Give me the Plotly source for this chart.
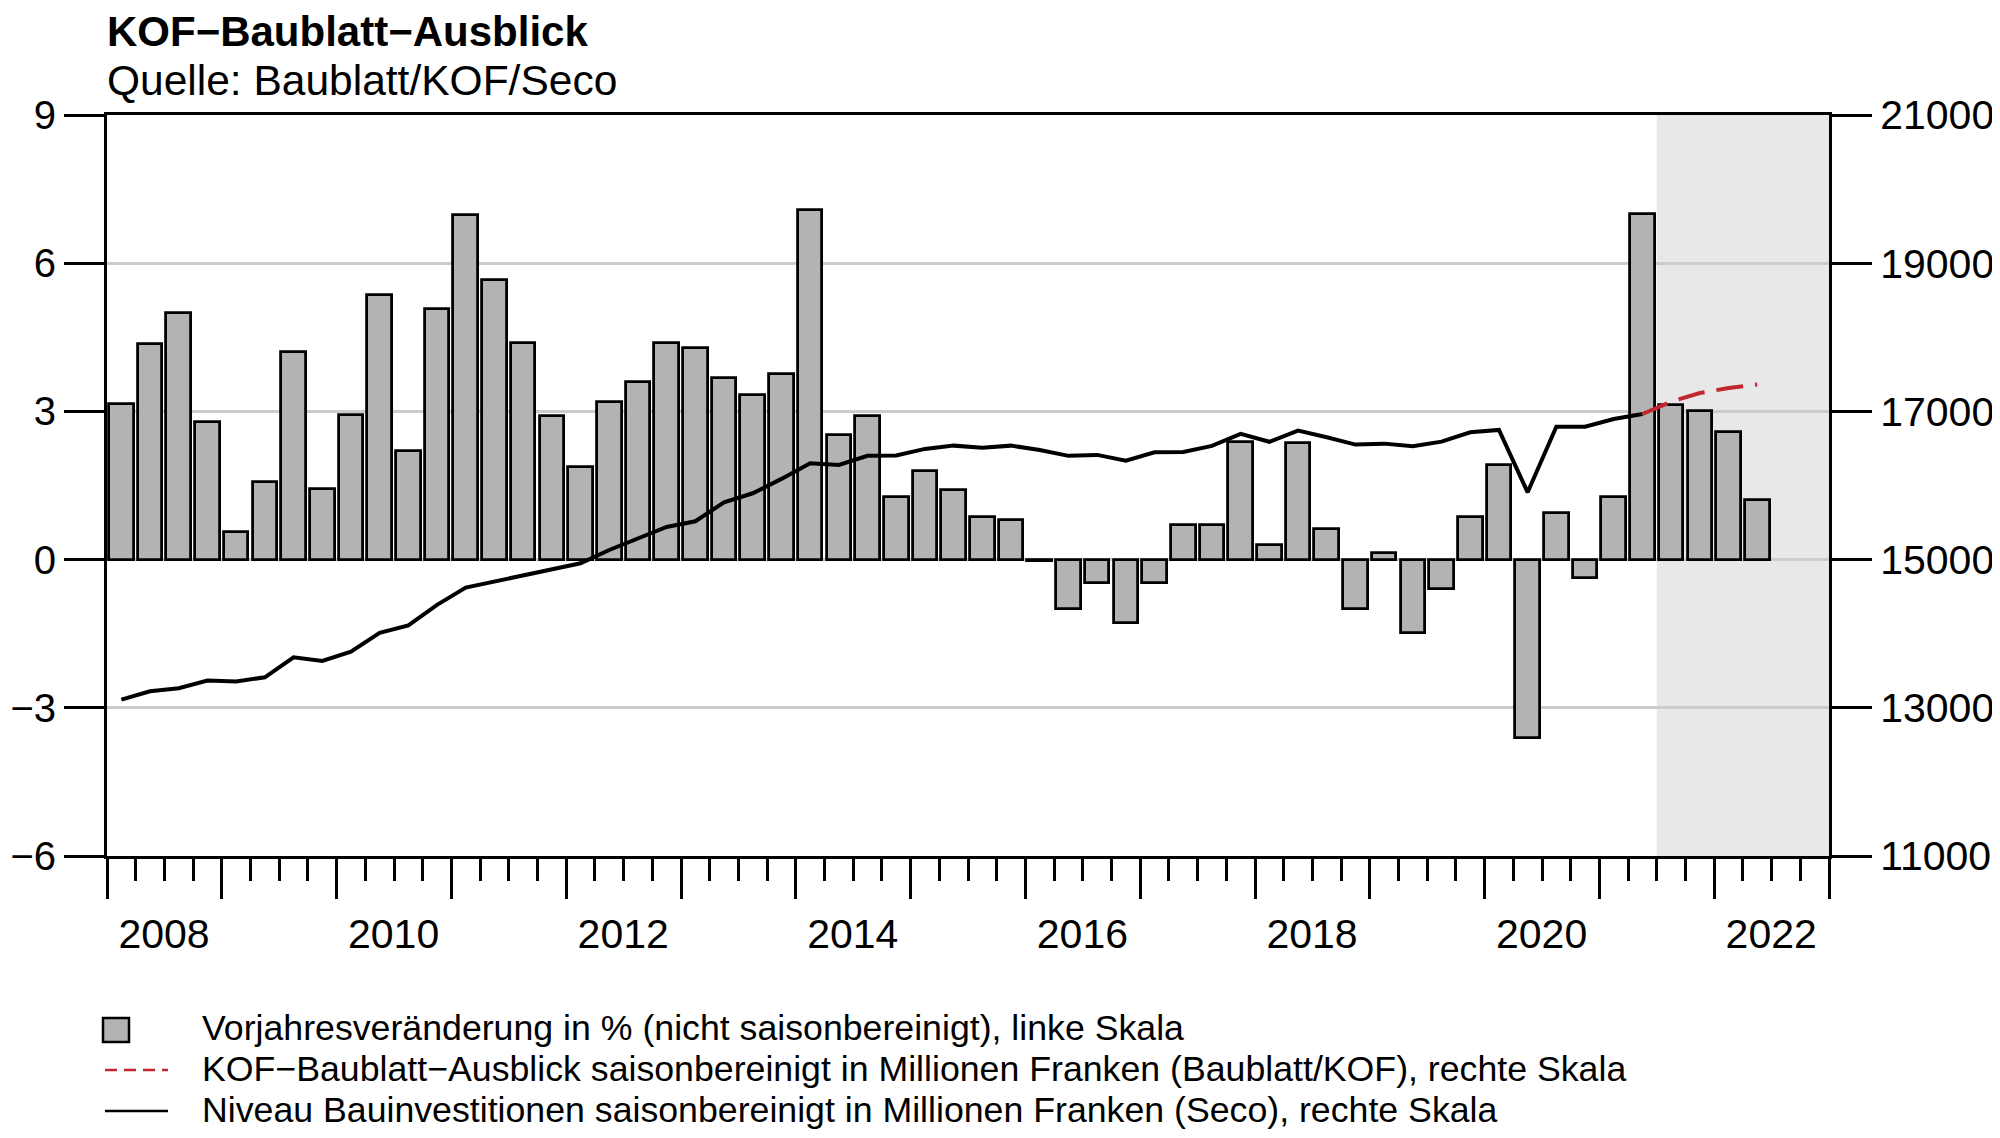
import plotly.graph_objects as go

# ---------------- data ----------------
quarters = [f"{y}Q{q}" for y in range(2008, 2023) for q in range(1, 5)][:58]

yoy_change = [
    3.15, 4.36, 5.00, 2.78,
    0.56, 1.57, 4.21, 1.42,
    2.93, 5.36, 2.20, 5.07,
    6.97, 5.67, 4.38, 2.91,
    1.88, 3.20, 3.60, 4.38,
    4.29, 3.67, 3.33, 3.76,
    7.08, 2.52, 2.90, 1.27,
    1.80, 1.41, 0.87, 0.80,
    -0.03, -0.99, -0.47, -1.28,
    -0.47, 0.70, 0.70, 2.38,
    0.29, 2.36, 0.61, -0.99,
    0.14, -1.49, -0.60, 0.86,
    1.91, -3.62, 0.95, -0.38,
    1.27, 7.00, 3.13, 3.01,
    2.59, 1.21,
]

invest_quarters = quarters[:54]
invest_level = [
    13111, 13223, 13264, 13367,
    13354, 13412, 13682, 13633,
    13758, 14011, 14113, 14389,
    14622, 14703, 14793, 14861,
    14950, 15130, 15279, 15440,
    15517, 15773, 15895, 16089,
    16300, 16278, 16400, 16404,
    16494, 16538, 16511, 16538,
    16480, 16400, 16413, 16336,
    16448, 16453, 16534, 16696,
    16590, 16741, 16651, 16552,
    16565, 16529, 16592, 16718,
    16750, 15908, 16794, 16794,
    16897, 16965,
]

outlook_quarters = ["2021Q2", "2021Q3", "2021Q4", "2022Q1", "2022Q2"]
outlook_level = [16965, 17131, 17248, 17316, 17364]

forecast_start = "2021Q3"

left_ticks = [-6, -3, 0, 3, 6, 9]
left_ticktext = ["\u22126", "\u22123", "0", "3", "6", "9"]
right_ticks = [11000, 13000, 15000, 17000, 19000, 21000]
right_ticktext = ["11000", "13000", "15000", "17000", "19000", "21000"]
year_ticks = list(range(2008, 2024))
year_ticktext = [str(y) if (y % 2 == 0 and y < 2023) else "" for y in year_ticks]

title = "KOF\u2212Baublatt\u2212Ausblick"
subtitle = "Quelle: Baublatt/KOF/Seco"
legend_labels = [
    "Vorjahresveränderung in % (nicht saisonbereinigt), linke Skala",
    "KOF\u2212Baublatt\u2212Ausblick saisonbereinigt in Millionen Franken (Baublatt/KOF), rechte Skala",
    "Niveau Bauinvestitionen saisonbereinigt in Millionen Franken (Seco), rechte Skala",
]

# ---------------- helpers ----------------
def qpos(label):
    y, q = label.split("Q")
    return int(y) + (int(q) - 0.5) / 4.0

def qstart(label):
    y, q = label.split("Q")
    return int(y) + (int(q) - 1) / 4.0

W, H = 2000, 1138
OFF = 8  # default page body margin of the browser
L, R, T, B = 107, 1829, 115, 856   # plot area in page pixels
PW, PH = R - L, B - T

def px(x):
    return (x - L) / PW

def py(y):
    return (B - y) / PH

FONT = "Liberation Sans, Arial, Helvetica, sans-serif"
RED = "#c1272d"
BAR = "#b3b3b3"
SHADE = "#e8e8e8"
GRID = "#cccccc"
TICKFONT = 41

fig = go.Figure()

fig.add_trace(go.Bar(
    x=[qpos(q) for q in quarters], y=yoy_change,
    width=0.25 * 0.86,
    marker=dict(color=BAR, line=dict(color="black", width=2.8)),
    name=legend_labels[0], yaxis="y", showlegend=False,
))
fig.add_trace(go.Scatter(
    x=[qpos(q) for q in invest_quarters], y=invest_level,
    mode="lines", line=dict(color="black", width=4),
    name=legend_labels[2], yaxis="y2", showlegend=False,
))
fig.add_trace(go.Scatter(
    x=[qpos(q) for q in outlook_quarters], y=outlook_level,
    mode="lines", line=dict(color=RED, width=4, dash="27px,12px"),
    name=legend_labels[1], yaxis="y2", showlegend=False,
))

shapes = [
    dict(type="rect", xref="x", yref="paper", x0=qstart(forecast_start), x1=2023,
         y0=0, y1=1, fillcolor=SHADE, line=dict(width=0), layer="below"),
    # legend symbols
    dict(type="rect", xref="paper", yref="paper", x0=px(103), x1=px(129),
         y0=py(1042), y1=py(1018), fillcolor=BAR, line=dict(color="black", width=2.5)),
    dict(type="line", xref="paper", yref="paper", x0=px(105), x1=px(168),
         y0=py(1070), y1=py(1070), line=dict(color=RED, width=2.7, dash="12px,7px")),
    dict(type="line", xref="paper", yref="paper", x0=px(105), x1=px(168),
         y0=py(1111), y1=py(1111), line=dict(color="black", width=2.7)),
]

annotations = [
    dict(text="<b>" + title + "</b>", xref="paper", yref="paper", x=px(105), y=py(32),
         xanchor="left", yanchor="middle", showarrow=False, font=dict(size=42, color="black")),
    dict(text=subtitle, xref="paper", yref="paper", x=px(105), y=py(80),
         xanchor="left", yanchor="middle", showarrow=False, font=dict(size=42.5, color="black")),
]
for lab, yy in zip(legend_labels, [1028, 1069, 1110]):
    annotations.append(dict(text=lab, xref="paper", yref="paper", x=px(200), y=py(yy),
                            xanchor="left", yanchor="middle", showarrow=False,
                            font=dict(size=35.7, color="black")))

fig.update_layout(
    width=W, height=H,
    margin=dict(l=L - OFF, r=W - (R - OFF), t=T - OFF, b=H - (B - OFF), pad=0, autoexpand=False),
    plot_bgcolor="white", paper_bgcolor="white",
    font=dict(family=FONT, color="black", size=TICKFONT),
    showlegend=False,
    bargap=0,
    shapes=shapes,
    annotations=annotations,
    xaxis=dict(
        range=[2008, 2023], tickmode="array", tickvals=year_ticks, ticktext=year_ticktext,
        ticks="outside", ticklen=40, tickwidth=3, tickcolor="black",
        ticklabelshift=int(round(PW / 15 / 2)), ticklabelstandoff=0,
        showline=True, linecolor="black", linewidth=3, mirror=True,
        showgrid=False, zeroline=False, automargin=False,
        minor=dict(tickmode="array",
                   tickvals=[y + k / 4 for y in range(2008, 2023) for k in (1, 2, 3)],
                   ticks="outside", ticklen=22, tickwidth=3, tickcolor="black", showgrid=False),
        tickfont=dict(size=TICKFONT),
    ),
    yaxis=dict(
        range=[-6, 9], tickmode="array", tickvals=left_ticks, ticktext=left_ticktext,
        ticks="outside", ticklen=40, tickwidth=3, tickcolor="black",
        ticklabelstandoff=0,
        showline=True, linecolor="black", linewidth=3,
        showgrid=True, gridcolor=GRID, gridwidth=3, zeroline=False, automargin=False,
        tickfont=dict(size=40),
    ),
    yaxis2=dict(
        range=[11000, 21000], overlaying="y", side="right",
        tickmode="array", tickvals=right_ticks, ticktext=right_ticktext,
        ticks="outside", ticklen=40, tickwidth=3, tickcolor="black",
        ticklabelstandoff=0,
        showline=True, linecolor="black", linewidth=3,
        showgrid=False, zeroline=False, automargin=False,
        tickfont=dict(size=TICKFONT),
    ),
)

fig.write_html("out.html")
